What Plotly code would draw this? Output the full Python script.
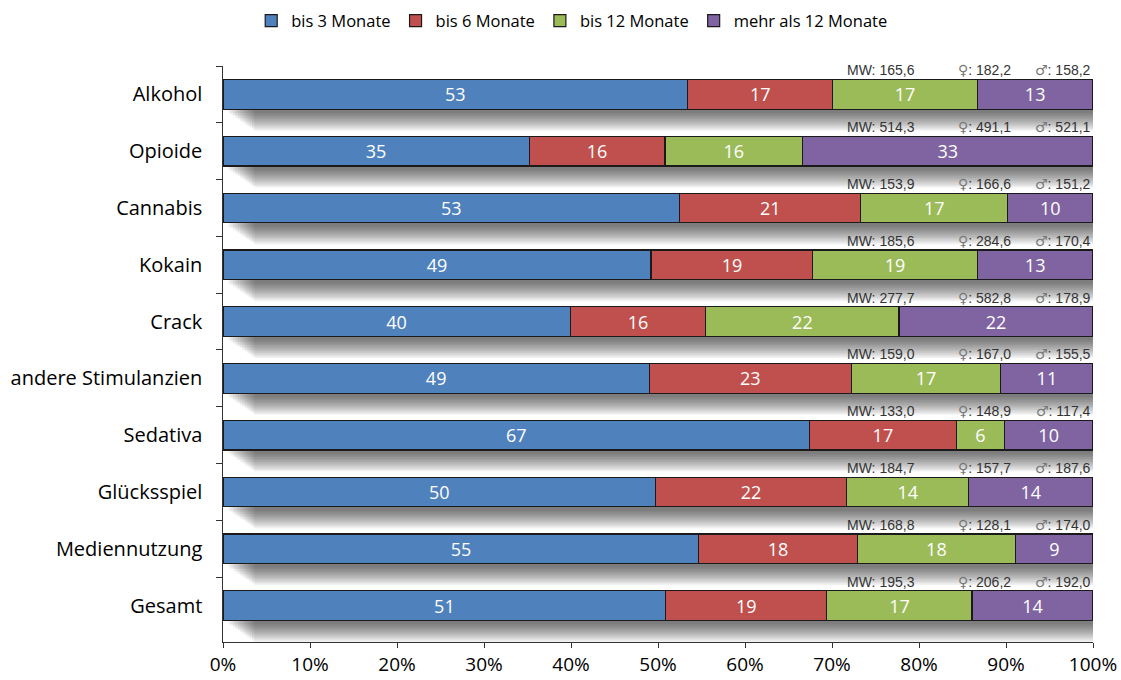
import plotly.graph_objects as go

categories = ["Alkohol", "Opioide", "Cannabis", "Kokain", "Crack", "andere Stimulanzien",
              "Sedativa", "Glücksspiel", "Mediennutzung", "Gesamt"]

series_names = ["bis 3 Monate", "bis 6 Monate", "bis 12 Monate", "mehr als 12 Monate"]
colors = ["#4F81BD", "#C0504D", "#9BBB59", "#8064A2"]

# segment shares (%)
bis3 = [53.4, 35.2, 52.5, 49.2, 39.9, 49.0, 67.4, 49.7, 54.7, 50.9]
bis6 = [16.7, 15.6, 20.8, 18.6, 15.6, 23.2, 16.9, 22.0, 18.2, 18.5]
bis12 = [16.6, 15.8, 16.9, 18.9, 22.2, 17.2, 5.5, 14.0, 18.2, 16.7]
mehr12 = [13.3, 33.4, 9.8, 13.3, 22.3, 10.6, 10.2, 14.3, 8.9, 13.9]

# printed labels
lab3 = [53, 35, 53, 49, 40, 49, 67, 50, 55, 51]
lab6 = [17, 16, 21, 19, 16, 23, 17, 22, 18, 19]
lab12 = [17, 16, 17, 19, 22, 17, 6, 14, 18, 17]
labm = [13, 33, 10, 13, 22, 11, 10, 14, 9, 14]

mw = ["165,6", "514,3", "153,9", "185,6", "277,7", "159,0", "133,0", "184,7", "168,8", "195,3"]
female = ["182,2", "491,1", "166,6", "284,6", "582,8", "167,0", "148,9", "157,7", "128,1", "206,2"]
male = ["158,2", "521,1", "151,2", "170,4", "178,9", "155,5", "117,4", "187,6", "174,0", "192,0"]

x_ticks = [0, 10, 20, 30, 40, 50, 60, 70, 80, 90, 100]
x_tick_labels = [f"{t}%" for t in x_ticks]

values = [bis3, bis6, bis12, mehr12]
labels = [lab3, lab6, lab12, labm]

FONT = "Open Sans"
BARGAP = 0.48
HALF = (1 - BARGAP) / 2  # half bar thickness in category units

fig = go.Figure()
for name, col, vals, labs in zip(series_names, colors, values, labels):
    fig.add_trace(go.Bar(
        y=categories, x=vals, name=name, orientation="h",
        marker=dict(color=col, line=dict(color="#1a1a1a", width=1.2)),
        text=[str(l) for l in labs], textposition="inside",
        insidetextanchor="middle", textangle=0, constraintext="none",
        textfont=dict(color="white", size=18, family=FONT),
        hoverinfo="skip",
    ))

# soft drop shadows under each bar (decorative, derived from bar positions)
shapes = []
totals = [a + b + c + d for a, b, c, d in zip(bis3, bis6, bis12, mehr12)]
px_per_cat = 576 / len(categories)
N_LAYERS = 12
for i, tot in enumerate(totals):
    for k in range(N_LAYERS):
        f = k / (N_LAYERS - 1)          # 0 = outermost, 1 = innermost
        dy = 22 - 18 * f                # px below the bar
        dx0 = 3.6 - 3.0 * f             # % inset from the left
        dx1 = 0.3 + 1.0 * f             # % beyond the bar end
        shapes.append(dict(
            type="rect", xref="x", yref="y", layer="below",
            x0=dx0, x1=tot + dx1,
            y0=i - HALF * 0.3, y1=i + HALF + dy / px_per_cat,
            fillcolor="black", opacity=0.055, line=dict(width=0),
        ))

annotations = []
SYM = "font-family:'DejaVu Sans';color:#777777"
for i, cat in enumerate(categories):
    for xpos, txt in [(79.8, f"MW: {mw[i]}"),
                      (90.8, f"<span style=\"{SYM}\">\u2640</span>: {female[i]}"),
                      (100, f"<span style=\"{SYM}\">\u2642</span>: {male[i]}")]:
        annotations.append(dict(
            x=xpos, y=cat, xref="x", yref="y", text=txt, showarrow=False,
            xanchor="right", yanchor="middle", yshift=24,
            font=dict(family="Liberation Sans", size=14, color="#333333"),
        ))

fig.update_layout(
    barmode="stack",
    bargap=BARGAP,
    width=1121, height=680,
    margin=dict(l=223, r=28, t=66, b=38),
    plot_bgcolor="white", paper_bgcolor="white",
    font=dict(family=FONT, size=20, color="black"),
    showlegend=True,
    legend=dict(
        orientation="h", xref="container", yref="container",
        x=0.51, xanchor="center", y=0.995, yanchor="top",
        font=dict(family=FONT, size=16.5, color="black"),
        traceorder="normal", itemwidth=30,
    ),
    xaxis=dict(
        range=[0, 100], tickvals=x_ticks, ticktext=x_tick_labels,
        showgrid=False, zeroline=False, showline=True, linecolor="#333333", linewidth=1.2,
        ticks="outside", ticklen=5, tickcolor="#333333",
        tickfont=dict(family=FONT, size=19, color="black"),
        fixedrange=True, automargin=False,
    ),
    yaxis=dict(
        categoryorder="array", categoryarray=categories, autorange="reversed",
        showgrid=False, zeroline=False, showline=True, linecolor="#333333", linewidth=1.2,
        ticks="outside", ticklen=6, tickcolor="#333333", tickson="boundaries",
        tickfont=dict(family=FONT, size=20, color="black"),
        ticksuffix="   ", automargin=False,
    ),
    shapes=shapes,
    annotations=annotations,
)

fig.write_html("out.html")
